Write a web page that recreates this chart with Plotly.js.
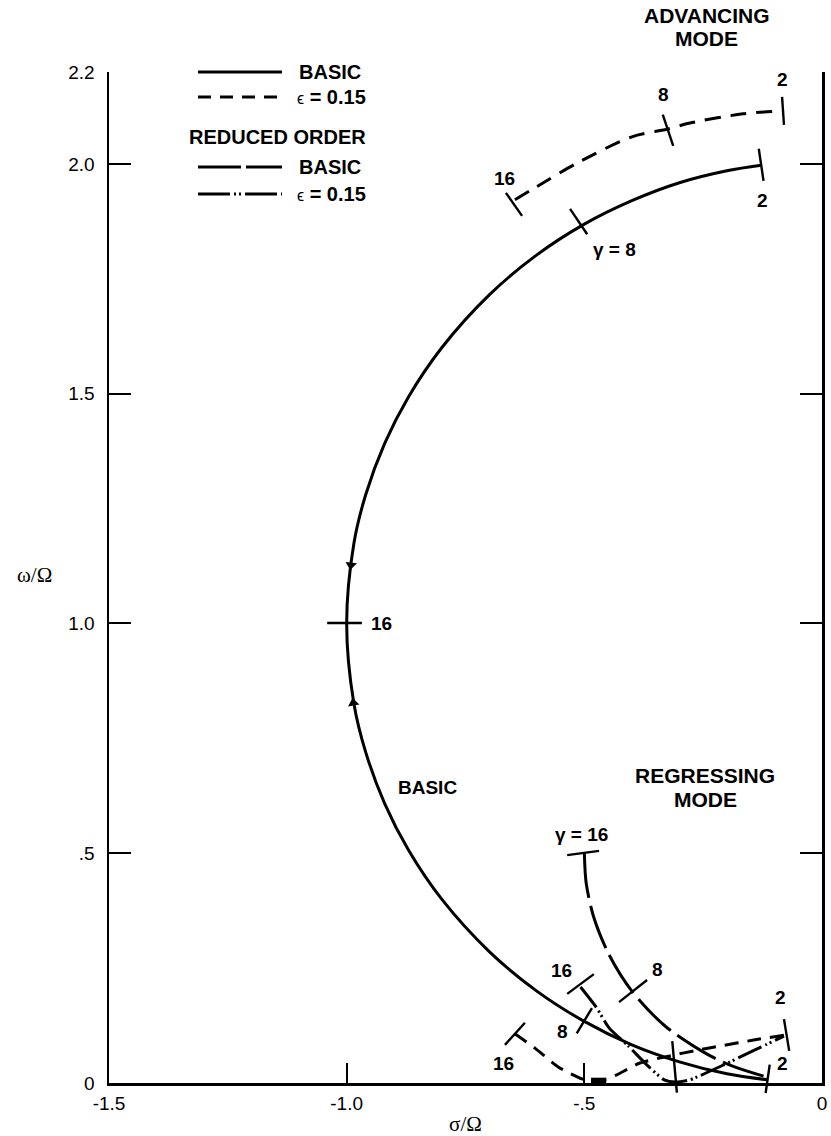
<!DOCTYPE html>
<html><head><meta charset="utf-8">
<script src="https://cdn.plot.ly/plotly-3.0.1.min.js"></script>
<style>html,body{margin:0;padding:0;background:#fff}</style>
</head><body><div id="chart" style="width:831px;height:1136px"></div>
<script>
// ---- axis ticks ----
const xTickVals = [-1.5, -1.0, -0.5, 0];
const xTickText = ['-1.5', '-1.0', '-.5', '0'];
const yTickVals = [0, 0.5, 1.0, 1.5, 2.0, 2.2];
const yTickText = ['0', '.5', '1.0', '1.5', '2.0', '2.2'];

// ---- BASIC (solid) : advancing gamma=2 -> gamma=16 -> regressing gamma=2 ----
const basicSigma = [-0.128, -0.20, -0.30, -0.40, -0.50, -0.60, -0.70, -0.80, -0.87, -0.92, -0.96, -0.985, -1.00,
                    -0.985, -0.96, -0.92, -0.87, -0.80, -0.70, -0.60, -0.50, -0.40, -0.30, -0.20, -0.115];
const basicOmega = [1.997, 1.985, 1.959, 1.920, 1.869, 1.802, 1.715, 1.600, 1.493, 1.392, 1.280, 1.173, 1.000,
                    0.827, 0.720, 0.608, 0.507, 0.400, 0.286, 0.200, 0.134, 0.083, 0.046, 0.020, 0.007];

// ---- epsilon = 0.15 (dashed), advancing mode ----
const advEpsSigma = [-0.646, -0.604, -0.515, -0.400, -0.324, -0.278, -0.166, -0.084];
const advEpsOmega = [1.922, 1.948, 2.002, 2.059, 2.076, 2.089, 2.109, 2.115];

// ---- epsilon = 0.15 (dashed), regressing mode ----
const regEpsSigma = [-0.646, -0.604, -0.555, -0.505, -0.469, -0.433, -0.383, -0.311, -0.269, -0.212, -0.141, -0.080];
const regEpsOmega = [0.107, 0.076, 0.035, 0.009, 0.004, 0.017, 0.0435, 0.061, 0.070, 0.081, 0.094, 0.104];
const heavySigma = [-0.486, -0.454];
const heavyOmega = [0.005, 0.005];

// ---- reduced order, basic (long dash), regressing ----
const redSigma = [-0.500, -0.496, -0.480, -0.449, -0.400, -0.329, -0.235, -0.181, -0.123];
const redOmega = [0.500, 0.434, 0.360, 0.281, 0.200, 0.123, 0.059, 0.034, 0.015];

// ---- reduced order, epsilon = 0.15 (dash-dot-dot), regressing ----
const redEpsSigma = [-0.508, -0.475, -0.448, -0.408, -0.368, -0.332, -0.309, -0.278, -0.212, -0.141, -0.080];
const redEpsOmega = [0.209, 0.165, 0.120, 0.081, 0.039, 0.007, 0.002, 0.007, 0.037, 0.072, 0.102];

// ---- gamma marks on the loci (segments: [sigma0, sigma1], [omega0, omega1]) ----
const gammaMarkSigma = [[-0.133, -0.123], [-0.530, -0.494], [-1.041, -0.968], [-0.084, -0.080],
                        [-0.335, -0.313], [-0.665, -0.631], [-0.536, -0.469], [-0.427, -0.368],
                        [-0.516, -0.484], [-0.667, -0.625], [-0.080, -0.069], [-0.536, -0.480]];
const gammaMarkOmega = [[2.033, 1.963], [1.902, 1.847], [1.001, 1.001], [2.146, 2.085],
                        [2.107, 2.039], [1.937, 1.887], [0.496, 0.505], [0.176, 0.224],
                        [0.108, 0.163], [0.083, 0.131], [0.139, 0.070], [0.194, 0.237]];
// marks that cross the sigma axis: [headSigma, headOmega, tailSigma, tailOmega]
const crossMarks = [[-0.110, 0.040, -0.119, -0.025], [-0.315, 0.091, -0.305, -0.024]];

// ---- direction arrows on BASIC ----
const arrowSigma = [-0.991, -0.986];
const arrowOmega = [1.127, 0.827];
const arrowSymbol = ['triangle-down', 'triangle-up'];
const arrowAngle = [7, -10];

// ---- text labels on the loci ----
const labelText = ['2', '8', '16', '2', '\u03b3<b> = 8</b>', '16', 'BASIC',
                   '\u03b3<b> = 16</b>', '8', '16', '8', '16', '2', '2'];
const labelSigma = [-0.084, -0.3345, -0.667, -0.126, -0.4355, -0.926, -0.831,
                    -0.505, -0.347, -0.547, -0.545, -0.671, -0.088, -0.084];
const labelOmega = [2.183, 2.150, 1.969, 1.921, 1.813, 1.001, 0.642,
                    0.540, 0.246, 0.244, 0.111, 0.0435, 0.185, 0.0435];

const BLACK = '#000';
const LW = 3;
function segTrace(xs, ys) {
  const x = [], y = [];
  xs.forEach((s, i) => { x.push(s[0], s[1], null); y.push(ys[i][0], ys[i][1], null); });
  return {x, y, type: 'scatter', mode: 'lines', line: {color: BLACK, width: 2.4}, hoverinfo: 'skip'};
}

const traces = [
  {x: basicSigma, y: basicOmega, type: 'scatter', mode: 'lines', line: {color: BLACK, width: LW, shape: 'spline', smoothing: 1}},
  {x: advEpsSigma, y: advEpsOmega, type: 'scatter', mode: 'lines', line: {color: BLACK, width: LW, dash: '16px,10px', shape: 'spline', smoothing: 0.8}},
  {x: regEpsSigma, y: regEpsOmega, type: 'scatter', mode: 'lines', line: {color: BLACK, width: LW, dash: '14px,9px', shape: 'spline', smoothing: 0.6}},
  {x: heavySigma, y: heavyOmega, type: 'scatter', mode: 'lines', line: {color: BLACK, width: 6}},
  {x: redSigma, y: redOmega, type: 'scatter', mode: 'lines', line: {color: BLACK, width: LW, dash: '45px,8px', shape: 'spline', smoothing: 0.8}},
  {x: redEpsSigma, y: redEpsOmega, type: 'scatter', mode: 'lines', line: {color: BLACK, width: LW, dash: '26px,4px,2px,3px,2px,4px', shape: 'spline', smoothing: 0.6}},
  segTrace(gammaMarkSigma, gammaMarkOmega),
  {x: arrowSigma, y: arrowOmega, type: 'scatter', mode: 'markers',
   marker: {symbol: arrowSymbol, angle: arrowAngle, size: 10, color: BLACK, line: {width: 0}}}
];

const annotations = [];
labelText.forEach((t, i) => annotations.push({
  x: labelSigma[i], y: labelOmega[i], xref: 'x', yref: 'y', text: t, showarrow: false,
  xanchor: 'center', yanchor: 'middle', font: {family: 'Liberation Sans, Arial, sans-serif', size: 19, color: BLACK, weight: 'bold'}
}));
crossMarks.forEach(m => annotations.push({
  x: m[0], y: m[1], ax: m[2], ay: m[3], xref: 'x', yref: 'y', axref: 'x', ayref: 'y',
  text: '', showarrow: true, arrowhead: 0, arrowwidth: 2.4, arrowcolor: BLACK, standoff: 0, startstandoff: 0
}));
const modeFont = {family: 'Liberation Sans, Arial, sans-serif', size: 21, color: BLACK, weight: 'bold'};
annotations.push({x: 0.8387, y: 1.0554, xref: 'paper', yref: 'paper', xanchor: 'center', yanchor: 'middle', text: 'ADVANCING', showarrow: false, font: modeFont});
annotations.push({x: 0.8387, y: 1.0327, xref: 'paper', yref: 'paper', xanchor: 'center', yanchor: 'middle', text: 'MODE', showarrow: false, font: modeFont});
annotations.push({x: -0.246, y: 0.670, xref: 'x', yref: 'y', xanchor: 'center', yanchor: 'middle', text: 'REGRESSING', showarrow: false, font: modeFont});
annotations.push({x: -0.246, y: 0.618, xref: 'x', yref: 'y', xanchor: 'center', yanchor: 'middle', text: 'MODE', showarrow: false, font: modeFont});
// y axis title (horizontal)
annotations.push({x: -0.1038, y: 0.5025, xref: 'paper', yref: 'paper', xanchor: 'center', yanchor: 'middle', text: '\u03c9/\u03a9', showarrow: false,
  font: {family: 'Liberation Serif, serif', size: 21, color: BLACK}});

// legend
const legFont = {family: 'Liberation Sans, Arial, sans-serif', size: 20, color: BLACK, weight: 'bold'};
const legRows = [1.0, 0.9753, 0.9060, 0.8793];
const legText = ['BASIC', '<span style="font-size:16px;font-weight:normal">\u03f5</span> = 0.15', 'BASIC', '<span style="font-size:16px;font-weight:normal">\u03f5</span> = 0.15'];
const legDash = ['solid', '13px,9px', '43px,5px', '32px,4px,2px,3px,2px,4px'];
const shapes = [];
legRows.forEach((yy, i) => {
  shapes.push({type: 'line', xref: 'paper', yref: 'paper', x0: 0.1248, x1: 0.2426, y0: yy, y1: yy,
    line: {color: BLACK, width: 3, dash: legDash[i]}});
  annotations.push({x: (i % 2 === 0) ? 0.2637 : 0.2609, y: yy, xref: 'paper', yref: 'paper', text: legText[i],
    showarrow: false, xanchor: 'left', yanchor: 'middle', font: legFont});
});
annotations.push({x: 0.237, y: 0.9357, xref: 'paper', yref: 'paper', text: 'REDUCED ORDER', showarrow: false,
  xanchor: 'center', yanchor: 'middle', font: legFont});

const layout = {
  width: 831, height: 1136,
  margin: {l: 109, r: 9, t: 72, b: 53, pad: 0},
  paper_bgcolor: '#fff', plot_bgcolor: '#fff',
  showlegend: false,
  font: {family: 'Liberation Sans, Arial, sans-serif', color: BLACK, size: 19},
  xaxis: {range: [-1.5, 0], tickmode: 'array', tickvals: xTickVals, ticktext: xTickText,
    ticks: 'inside', ticklen: 20, tickwidth: 2, tickcolor: BLACK, ticklabelstandoff: 2,
    showline: true, linewidth: 2.5, linecolor: BLACK, mirror: false, showgrid: false, zeroline: false,
    tickfont: {size: 19, color: BLACK},
    title: {text: '\u03c3/\u03a9', font: {family: 'Liberation Serif, serif', size: 21, color: BLACK}, standoff: 4}},
  yaxis: {range: [0, 2.2], tickmode: 'array', tickvals: yTickVals, ticktext: yTickText,
    ticks: 'inside', ticklen: 22, tickwidth: 2, tickcolor: BLACK, ticklabelstandoff: 8,
    showline: true, linewidth: 2.5, linecolor: BLACK, mirror: 'ticks', showgrid: false, zeroline: false,
    tickfont: {size: 19, color: BLACK}},
  annotations: annotations,
  shapes: shapes
};

Plotly.newPlot('chart', traces, layout, {displayModeBar: false, staticPlot: true});
</script>
</body></html>
